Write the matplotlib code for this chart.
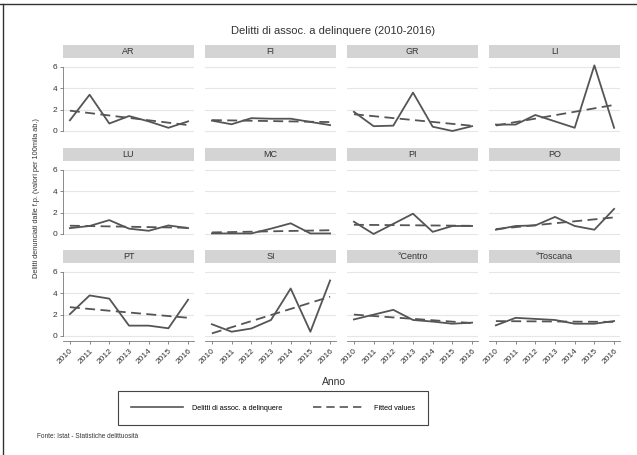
import numpy as np
import matplotlib.pyplot as plt
from matplotlib.lines import Line2D

plt.rcParams['font.family'] = ['Liberation Sans', 'DejaVu Sans']

anni = [2010, 2011, 2012, 2013, 2014, 2015, 2016]

# valori per 100mila abitanti
AR = [1.0, 3.4, 0.7, 1.4, 0.9, 0.3, 0.9]
FI = [0.97, 0.63, 1.2, 1.15, 1.15, 0.85, 0.55]
GR = [1.8, 0.45, 0.5, 3.6, 0.4, 0.0, 0.45]
LI = [0.6, 0.6, 1.5, 0.9, 0.3, 6.15, 0.3]
LU = [0.55, 0.75, 1.3, 0.5, 0.3, 0.8, 0.55]
MC = [0.05, 0.05, 0.05, 0.5, 1.0, 0.05, 0.05]
PI = [1.15, 0.0, 0.95, 1.9, 0.2, 0.75, 0.75]
PO = [0.4, 0.75, 0.8, 1.6, 0.75, 0.4, 2.35]
PT = [2.05, 3.8, 3.5, 0.97, 0.97, 0.72, 3.4]
SI = [1.1, 0.4, 0.7, 1.5, 4.45, 0.4, 5.2]
Centro = [1.55, 2.0, 2.45, 1.5, 1.35, 1.15, 1.25]
Toscana = [1.0, 1.7, 1.6, 1.5, 1.15, 1.15, 1.4]

nomi = ['AR', 'FI', 'GR', 'LI', 'LU', 'MC', 'PI', 'PO', 'PT', 'SI', '°Centro', '°Toscana']
serie = [AR, FI, GR, LI, LU, MC, PI, PO, PT, SI, Centro, Toscana]

W, H = 637, 455
fig = plt.figure(figsize=(W / 100, H / 100), dpi=100)

def box(x0, y0, w, h):
    # pixel -> coordinate figura
    return [x0 / W, 1 - (y0 + h) / H, w / W, h / H]

col_x = [63, 205, 347, 489]
riga_y = [58, 161, 263]
larg, alt, alt_strip = 131, 78, 13
linea = '#555555'
asse = '#777777'

for i, (nome, val) in enumerate(zip(nomi, serie)):
    r, c = divmod(i, 4)
    ax = fig.add_axes(box(col_x[c], riga_y[r], larg, alt))
    x = np.array(anni)
    y = np.array(val)
    # retta di regressione (Fitted values)
    b, a = np.polyfit(x, y, 1)
    ax.plot(x, y, color=linea, lw=1.3)
    ax.plot(x, a + b * x, color=linea, lw=1.3, ls=(0, (5.5, 3)))
    ax.set_xlim(2009.65, 2016.3)
    ax.set_ylim(-0.47, 6.84)
    ax.set_yticks([0, 2, 4, 6])
    ax.set_xticks(anni)
    ax.grid(axis='y', color='#e6e6e6', lw=0.8)
    ax.set_axisbelow(True)
    for s in ax.spines.values():
        s.set_visible(False)
    ax.tick_params(colors=asse, labelcolor='#333333', labelsize=6, length=2.5, width=0.6)
    if c == 0:
        ax.spines['left'].set_visible(True)
        ax.spines['left'].set_color(asse)
        ax.spines['left'].set_linewidth(0.6)
        ax.spines['left'].set_bounds(0, 6)
        ax.tick_params(axis='y', pad=1.5)
    else:
        ax.tick_params(axis='y', left=False, labelleft=False)
    if r == 2:
        ax.spines['bottom'].set_visible(True)
        ax.spines['bottom'].set_color(asse)
        ax.spines['bottom'].set_linewidth(0.6)
        ax.set_xticklabels([str(a_) for a_ in anni], rotation=45, ha='right',
                           rotation_mode='anchor')
        ax.tick_params(axis='x', pad=2)
    else:
        ax.tick_params(axis='x', bottom=False, labelbottom=False)

    st = fig.add_axes(box(col_x[c], riga_y[r] - alt_strip, larg, alt_strip))
    st.set_facecolor('#d4d4d4')
    st.set_xticks([])
    st.set_yticks([])
    for s in st.spines.values():
        s.set_visible(False)
    st.text(0.5, 0.5, nome, ha='center', va='center', fontsize=6.5, color='#333333',
            transform=st.transAxes)

fig.text(333 / W, 1 - 31 / H, 'Delitti di assoc. a delinquere (2010-2016)',
         ha='center', va='center', fontsize=8, color='#333333')
fig.text(334 / W, 1 - 382 / H, 'Anno', ha='center', va='center', fontsize=7.5,
         color='#333333')
fig.text(37 / W, 1 - 198 / H, 'Delitti denunciati dalle f.p. (valori per 100mila ab.)',
         ha='center', va='center', rotation=90, fontsize=5.3, color='#333333')
fig.text(37 / W, 1 - 437 / H, 'Fonte: Istat - Statistiche delittuosità',
         ha='left', va='center', fontsize=4.7, color='#333333')

maniglie = [Line2D([], [], color=linea, lw=1.2),
            Line2D([], [], color=linea, lw=1.2, ls=(0, (5, 3)))]
leg = fig.legend(maniglie, ['Delitti di assoc. a delinquere', 'Fitted values'],
                 loc='center', bbox_to_anchor=(273 / W, 1 - 408 / H), ncol=2,
                 fontsize=5.2, handlelength=7.2, handletextpad=1.3, columnspacing=4.2,
                 borderpad=1.8, fancybox=False, framealpha=1)
leg.get_frame().set_edgecolor('#444444')
leg.get_frame().set_linewidth(0.8)

# cornice dello screenshot (in alto e a sinistra)
fig.add_artist(Line2D([0, 1], [1 - 4 / H, 1 - 4 / H], color='#333333', lw=1,
                      transform=fig.transFigure))
fig.add_artist(Line2D([3 / W, 3 / W], [0, 1 - 4 / H], color='#333333', lw=1,
                      transform=fig.transFigure))

fig.savefig('out.png', dpi=100)
